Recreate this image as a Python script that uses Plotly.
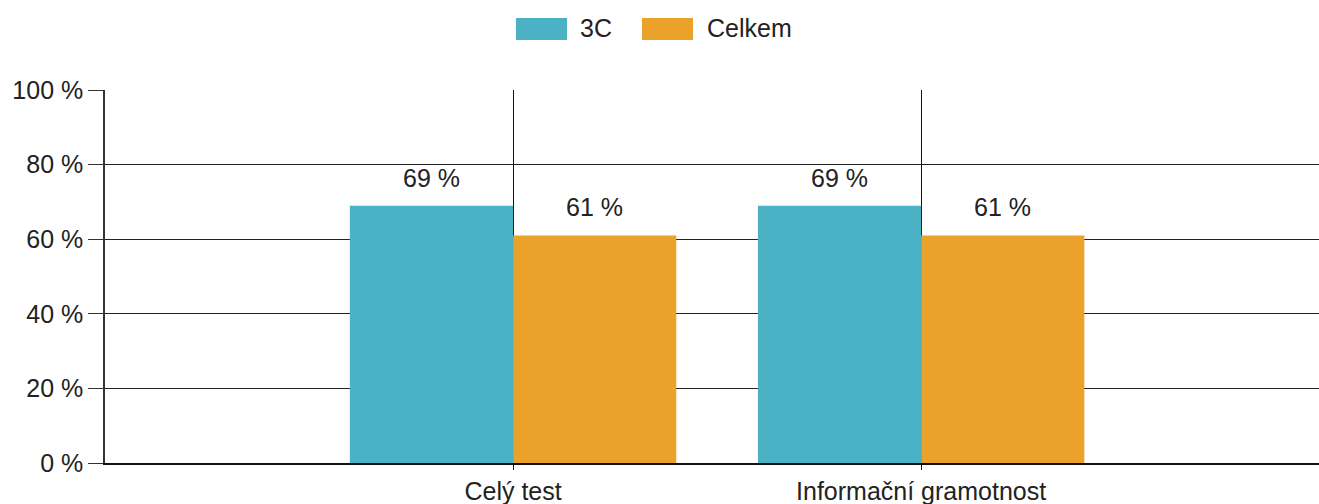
import plotly.graph_objects as go

categories = ["Celý test", "Informační gramotnost"]
series_names = ["3C", "Celkem"]
values_3c = [69, 69]
values_celkem = [61, 61]
colors = ["#4BB2C5", "#EAA22B"]
y_ticks = [0, 20, 40, 60, 80, 100]
y_tick_labels = [f"{v} %" for v in y_ticks]

font_family = "Liberation Sans, Arial, sans-serif"
text_color = "#222222"
FS = 25

W, H = 1319, 504
# plot area in page pixels: x 105..1319, y 90..463
ML, MR, MT, MB = 105, 0, 90, H - 463
PW, PH = W - ML - MR, H - MT - MB


def px_to_paper_x(px):
    return (px - ML) / PW


def px_to_paper_y(py):
    return (H - MB - py) / PH


fig = go.Figure()
all_vals = [values_3c, values_celkem]
n_series = len(series_names)
bar_w = 0.8 / n_series
for s, (name, vals, col) in enumerate(zip(series_names, all_vals, colors)):
    fig.add_trace(go.Bar(
        name=name, x=categories, y=vals,
        marker=dict(color=col, line=dict(width=0)),
        showlegend=False,
    ))
    # value labels above bars
    for i, v in enumerate(vals):
        fig.add_annotation(
            x=i - 0.4 + bar_w * (s + 0.5), y=v, xref="x", yref="y",
            text=f"{v} %", showarrow=False, yanchor="bottom",
            yshift=12, font=dict(size=FS, color=text_color, family=font_family),
        )

# custom legend (wide swatches like the reference)
legend_items = [(516, 567, 578), (642, 693, 705)]
for (x0, x1, tx), name, col in zip(legend_items, series_names, colors):
    fig.add_shape(type="rect", xref="paper", yref="paper",
                  x0=px_to_paper_x(x0), x1=px_to_paper_x(x1),
                  y0=px_to_paper_y(40), y1=px_to_paper_y(18),
                  fillcolor=col, line=dict(width=0), layer="above")
    fig.add_annotation(x=px_to_paper_x(tx), y=px_to_paper_y(28),
                       xref="paper", yref="paper", xanchor="left", yanchor="middle",
                       text=name, showarrow=False,
                       font=dict(size=FS, color=text_color, family=font_family))

fig.update_layout(
    width=W, height=H,
    margin=dict(l=ML, r=MR, t=MT, b=MB, pad=0, autoexpand=False),
    paper_bgcolor="white", plot_bgcolor="white",
    barmode="group", bargap=0.2, bargroupgap=0,
    font=dict(family=font_family, size=FS, color=text_color),
    showlegend=False,
    xaxis=dict(type="category", range=[-1, 1.975], showgrid=True,
               gridcolor="#111111", gridwidth=1, automargin=False,
               showline=True, linecolor="#111111", linewidth=2,
               ticks="outside", ticklen=5, tickcolor="#111111",
               tickfont=dict(size=FS, color=text_color)),
    yaxis=dict(range=[0, 100], tickvals=y_ticks, ticktext=y_tick_labels,
               showgrid=True, gridcolor="#222222", gridwidth=1, automargin=False,
               showline=True, linecolor="#333333", linewidth=1.5,
               ticks="outside", ticklen=15, tickcolor="#333333",
               tickfont=dict(size=FS, color=text_color), zeroline=False),
)

fig.write_html(
    "out.html",
    config={"displayModeBar": False},
    post_script="document.body.style.margin='0';document.body.style.overflow='hidden';",
)
